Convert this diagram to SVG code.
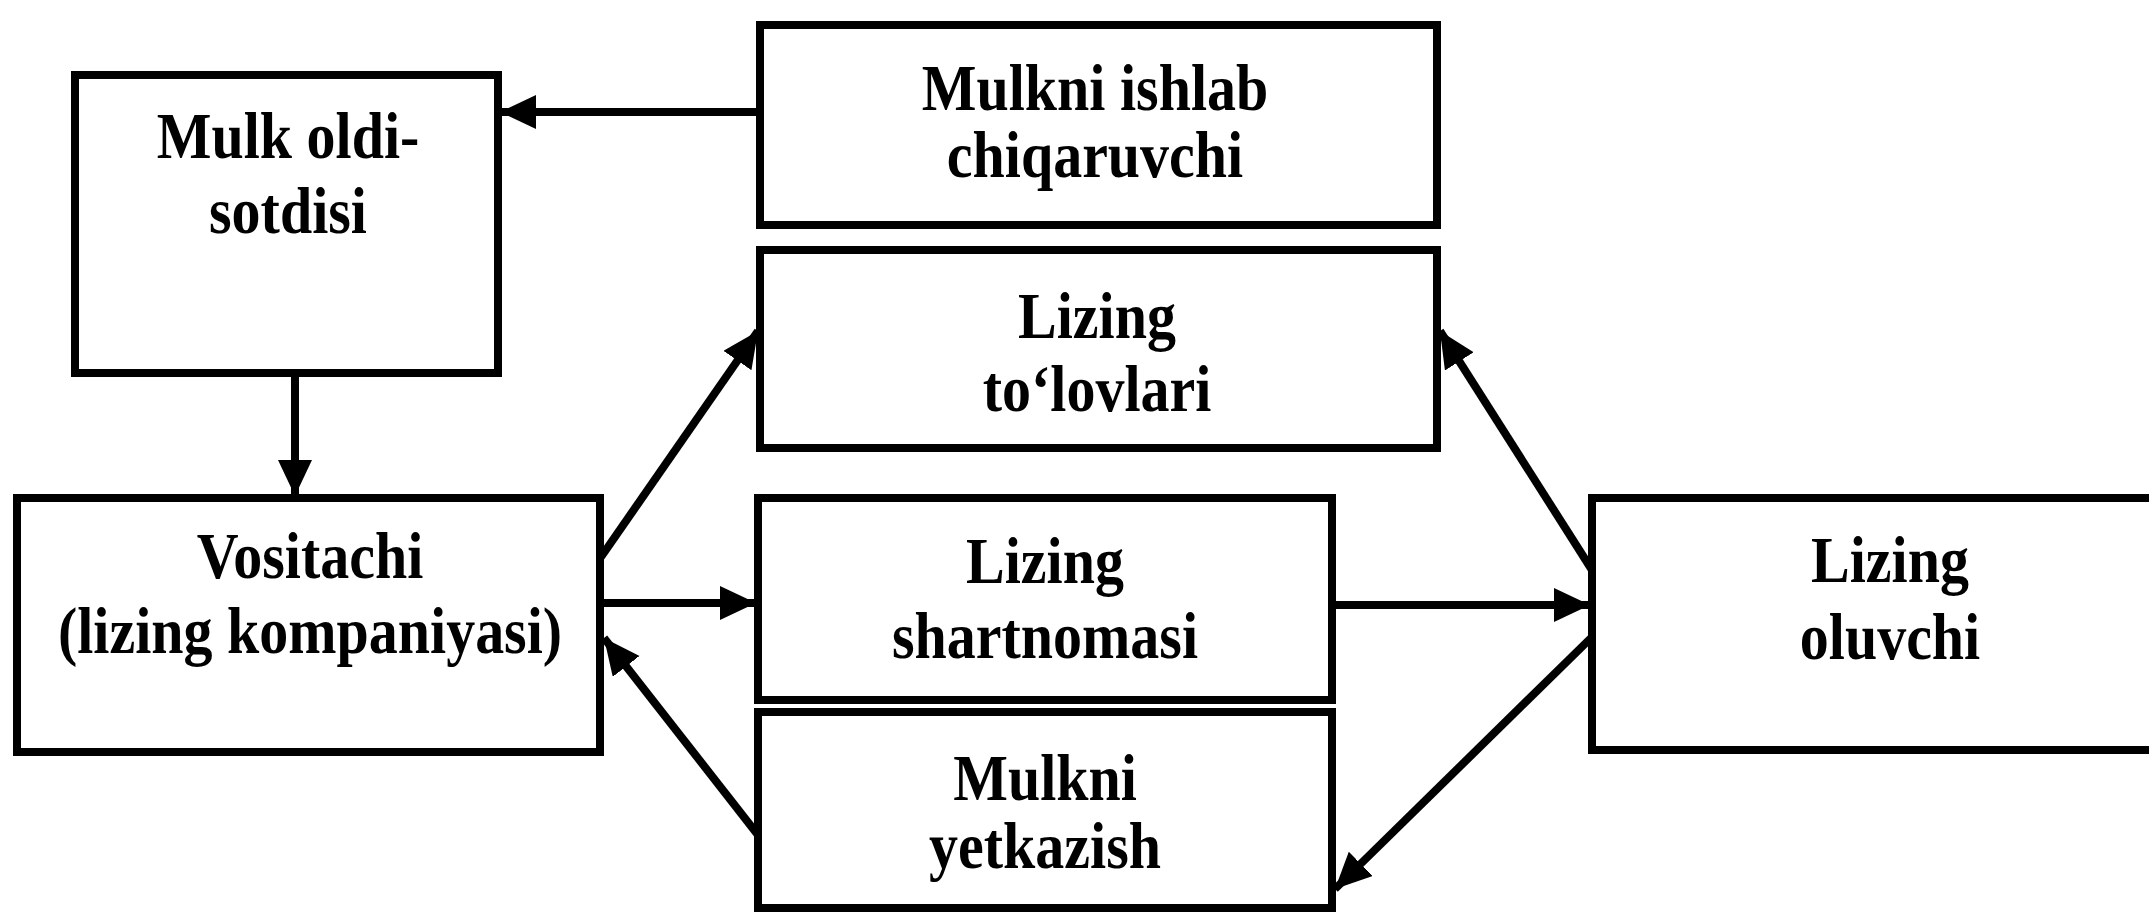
<svg xmlns="http://www.w3.org/2000/svg" width="2149" height="912" viewBox="0 0 2149 912">
<style>
.box{fill:#fff;stroke:#000;stroke-width:8}
.t{font-family:"Liberation Serif","Times New Roman",serif;font-weight:bold;font-size:58px;fill:#000;text-anchor:middle}
.c{fill:none;stroke:#000;stroke-width:8;marker-end:url(#ah)}
</style>
<defs>
<marker id="ah" markerUnits="userSpaceOnUse" markerWidth="38" markerHeight="36" refX="36" refY="17" orient="auto">
<path d="M0,0 L36,17 L0,34 z" fill="#000"/>
</marker>
</defs>
<rect width="2149" height="912" fill="#fff"/>
<g id="connectors">
<line class="c" x1="760" y1="112" x2="500" y2="112"/>
<line class="c" x1="295" y1="373" x2="295" y2="496"/>
<line class="c" x1="601" y1="557" x2="758" y2="331"/>
<line class="c" x1="601" y1="603" x2="756" y2="603"/>
<line class="c" x1="758" y1="835" x2="604" y2="638"/>
<line class="c" x1="1592" y1="570" x2="1440" y2="331"/>
<line class="c" x1="1332" y1="605" x2="1590" y2="605"/>
<line class="c" x1="1592" y1="637" x2="1335" y2="889"/>
</g>
<g id="mulk-oldi-sotdisi">
<rect class="box" x="75" y="75" width="423" height="298"/>
<text class="t" transform="translate(288,158) scale(1,1.12)"><tspan x="0" y="0">Mulk oldi-</tspan><tspan x="0" y="67">sotdisi</tspan></text>
</g>
<g id="mulkni-ishlab-chiqaruvchi">
<rect class="box" x="760" y="25" width="677" height="200"/>
<text class="t" transform="translate(1095,110) scale(1,1.12)"><tspan x="0" y="0">Mulkni ishlab</tspan><tspan x="0" y="59.8">chiqaruvchi</tspan></text>
</g>
<g id="lizing-tolovlari">
<rect class="box" x="760" y="250" width="677" height="198"/>
<text class="t" transform="translate(1097,338) scale(1,1.12)"><tspan x="0" y="0">Lizing</tspan><tspan x="0" y="65.2">to‘lovlari</tspan></text>
</g>
<g id="vositachi">
<rect class="box" x="17" y="498" width="583" height="254"/>
<text class="t" transform="translate(310,578) scale(1,1.12)"><tspan x="0" y="0">Vositachi</tspan><tspan x="0" y="67">(lizing kompaniyasi)</tspan></text>
</g>
<g id="lizing-shartnomasi">
<rect class="box" x="758" y="498" width="574" height="202"/>
<text class="t" transform="translate(1045,583) scale(1,1.12)"><tspan x="0" y="0">Lizing</tspan><tspan x="0" y="67">shartnomasi</tspan></text>
</g>
<g id="mulkni-yetkazish">
<rect class="box" x="758" y="712" width="574" height="196"/>
<text class="t" transform="translate(1045,800) scale(1,1.12)"><tspan x="0" y="0">Mulkni</tspan><tspan x="0" y="60.7">yetkazish</tspan></text>
</g>
<g id="lizing-oluvchi">
<rect class="box" x="1592" y="498" width="570" height="252"/>
<text class="t" transform="translate(1890,582) scale(1,1.12)"><tspan x="0" y="0">Lizing</tspan><tspan x="0" y="68.8">oluvchi</tspan></text>
</g>
</svg>
